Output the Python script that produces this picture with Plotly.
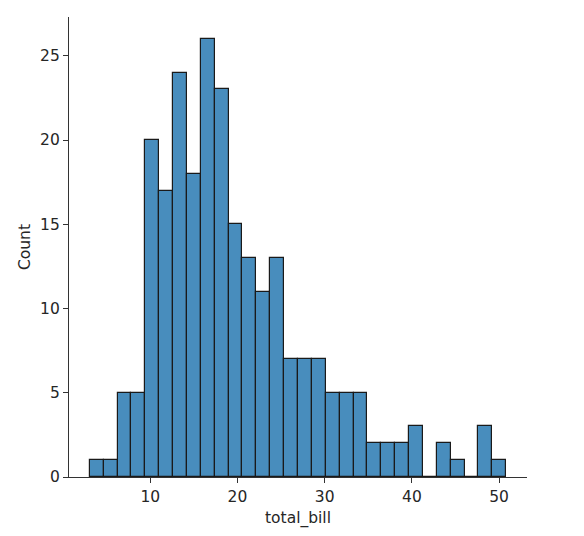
import numpy as np
import plotly.graph_objects as go

# 30 bins between min and max of total_bill
bill_min = 3.07
bill_max = 50.81
counts = [1, 1, 5, 5, 20, 17, 24, 18, 26, 23, 15, 13, 11, 13, 7,
          7, 7, 5, 5, 5, 2, 2, 2, 3, 0, 2, 1, 0, 3, 1]
x_ticks = [10, 20, 30, 40, 50]
y_ticks = [0, 5, 10, 15, 20, 25]

edges = np.linspace(bill_min, bill_max, len(counts) + 1)
centers = (edges[:-1] + edges[1:]) / 2
width = edges[1] - edges[0]

fig = go.Figure(go.Bar(
    x=centers,
    y=counts,
    width=width,
    marker=dict(color='rgb(72,141,189)', line=dict(color='#1a1a1a', width=1.2)),
))

# matplotlib style 5% margins
pad = (bill_max - bill_min) * 0.05
fig.update_layout(
    width=584, height=536,
    margin=dict(l=61, r=65, t=9, b=67),
    plot_bgcolor='white', paper_bgcolor='white',
    font=dict(family='DejaVu Sans', size=15.5, color='#262626'),
    showlegend=False,
    bargap=0,
)
fig.update_xaxes(
    range=[bill_min - pad, bill_max + pad],
    tickvals=x_ticks,
    showgrid=False, zeroline=False,
    showline=True, linecolor='#333', linewidth=1.2,
    ticks='outside', ticklen=5, tickcolor='#333',
    title=dict(text='total_bill', font=dict(size=15.5), standoff=7),
)
fig.update_yaxes(
    range=[0, max(counts) * 1.05],
    tickvals=y_ticks,
    showgrid=False, zeroline=False,
    showline=True, linecolor='#333', linewidth=1.2,
    ticks='outside', ticklen=5, tickcolor='#333',
    title=dict(text='Count', font=dict(size=15.5), standoff=5),
)

fig.write_html("out.html")
